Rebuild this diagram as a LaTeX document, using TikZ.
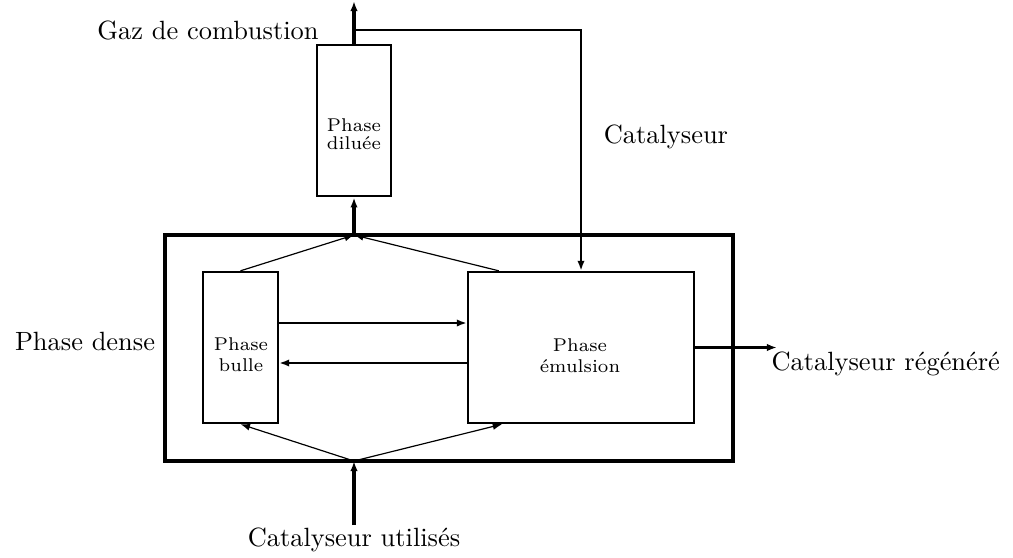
\documentclass[tikz,border=0pt]{standalone}
\usetikzlibrary{arrows.meta,calc}
\begin{document}
\begin{tikzpicture}[x=0.3788pt,y=-0.3788pt,
  box/.style={draw,rectangle,inner sep=0pt,line width=#1},
  box/.default=0.9pt,
  intext/.style={inner sep=0pt,align=center,font=\scriptsize},
  thin arrow/.style={line width=0.45pt,-{Latex[length=3.6pt,width=2.6pt]}},
  mid arrow/.style={line width=0.8pt,-{Latex[length=3.8pt,width=2.8pt]}},
  thick arrow/.style={line width=1.3pt,-{Latex[length=3.8pt,width=2.8pt]}},
  lbl/.style={inner sep=0pt,font=\normalsize}]
\useasboundingbox (0,0) rectangle (1013,558);
\node[box=1.3pt,minimum width=215.2pt,minimum height=85.6pt] (dense) at (449,348) {};
\node[box=1.1pt,minimum width=28.0pt,minimum height=57.2pt] (dil) at (354,120.5) {};
\node[box,minimum width=28.4pt,minimum height=57.2pt] (bul) at (240.5,347.5) {};
\node[box,minimum width=85.6pt,minimum height=57.2pt] (emu) at (581,347.5) {};
\node[intext] (dilT) at (354,134) {Phase\\[-1.2pt]dilu\'ee};
\node[intext] (bulT) at (241,355) {Phase\\bulle};
\node[intext] (emuT) at (580,356) {Phase\\\'emulsion};
\coordinate (top) at (354,1);
\coordinate (j) at (354,30);
\coordinate (tj) at (354,235);
\coordinate (bj) at (354,461);
\coordinate (in) at (354,525);
\coordinate (out) at (777,348);
\node[lbl] (gaz) at (208,30) {Gaz de combustion};
\node[lbl] (cat) at (666,137) {Catalyseur};
\node[lbl] (pd) at (85,341) {Phase dense};
\node[lbl,anchor=west] (reg) at (771,364) {Catalyseur r\'eg\'en\'er\'e};
\node[lbl] (use) at (354,540) {Catalyseur utilis\'es};
\draw[thick arrow] (dil.north) -- (top);
\draw[mid arrow] (j) -| (emu.north);
\draw[thick arrow] (tj) -- (dil.south);
\draw[thin arrow] (bul.north) -- (tj);
\draw[thin arrow] ($(emu.north west)!0.14!(emu.north east)$) -- (tj);
\draw[thin arrow] (bj) -- (bul.south);
\draw[thin arrow] (bj) -- ($(emu.south west)!0.155!(emu.south east)$);
\draw[mid arrow] ($(bul.east)+(0,-24.5)$) -- ($(emu.west)+(0,-24.5)$);
\draw[mid arrow] ($(emu.west)+(0,15.5)$) -- ($(bul.east)+(0,15.5)$);
\draw[mid arrow] (emu.east) -- (emu.east -| out);
\draw[thick arrow] (in) -- (bj);
\end{tikzpicture}
\end{document}
